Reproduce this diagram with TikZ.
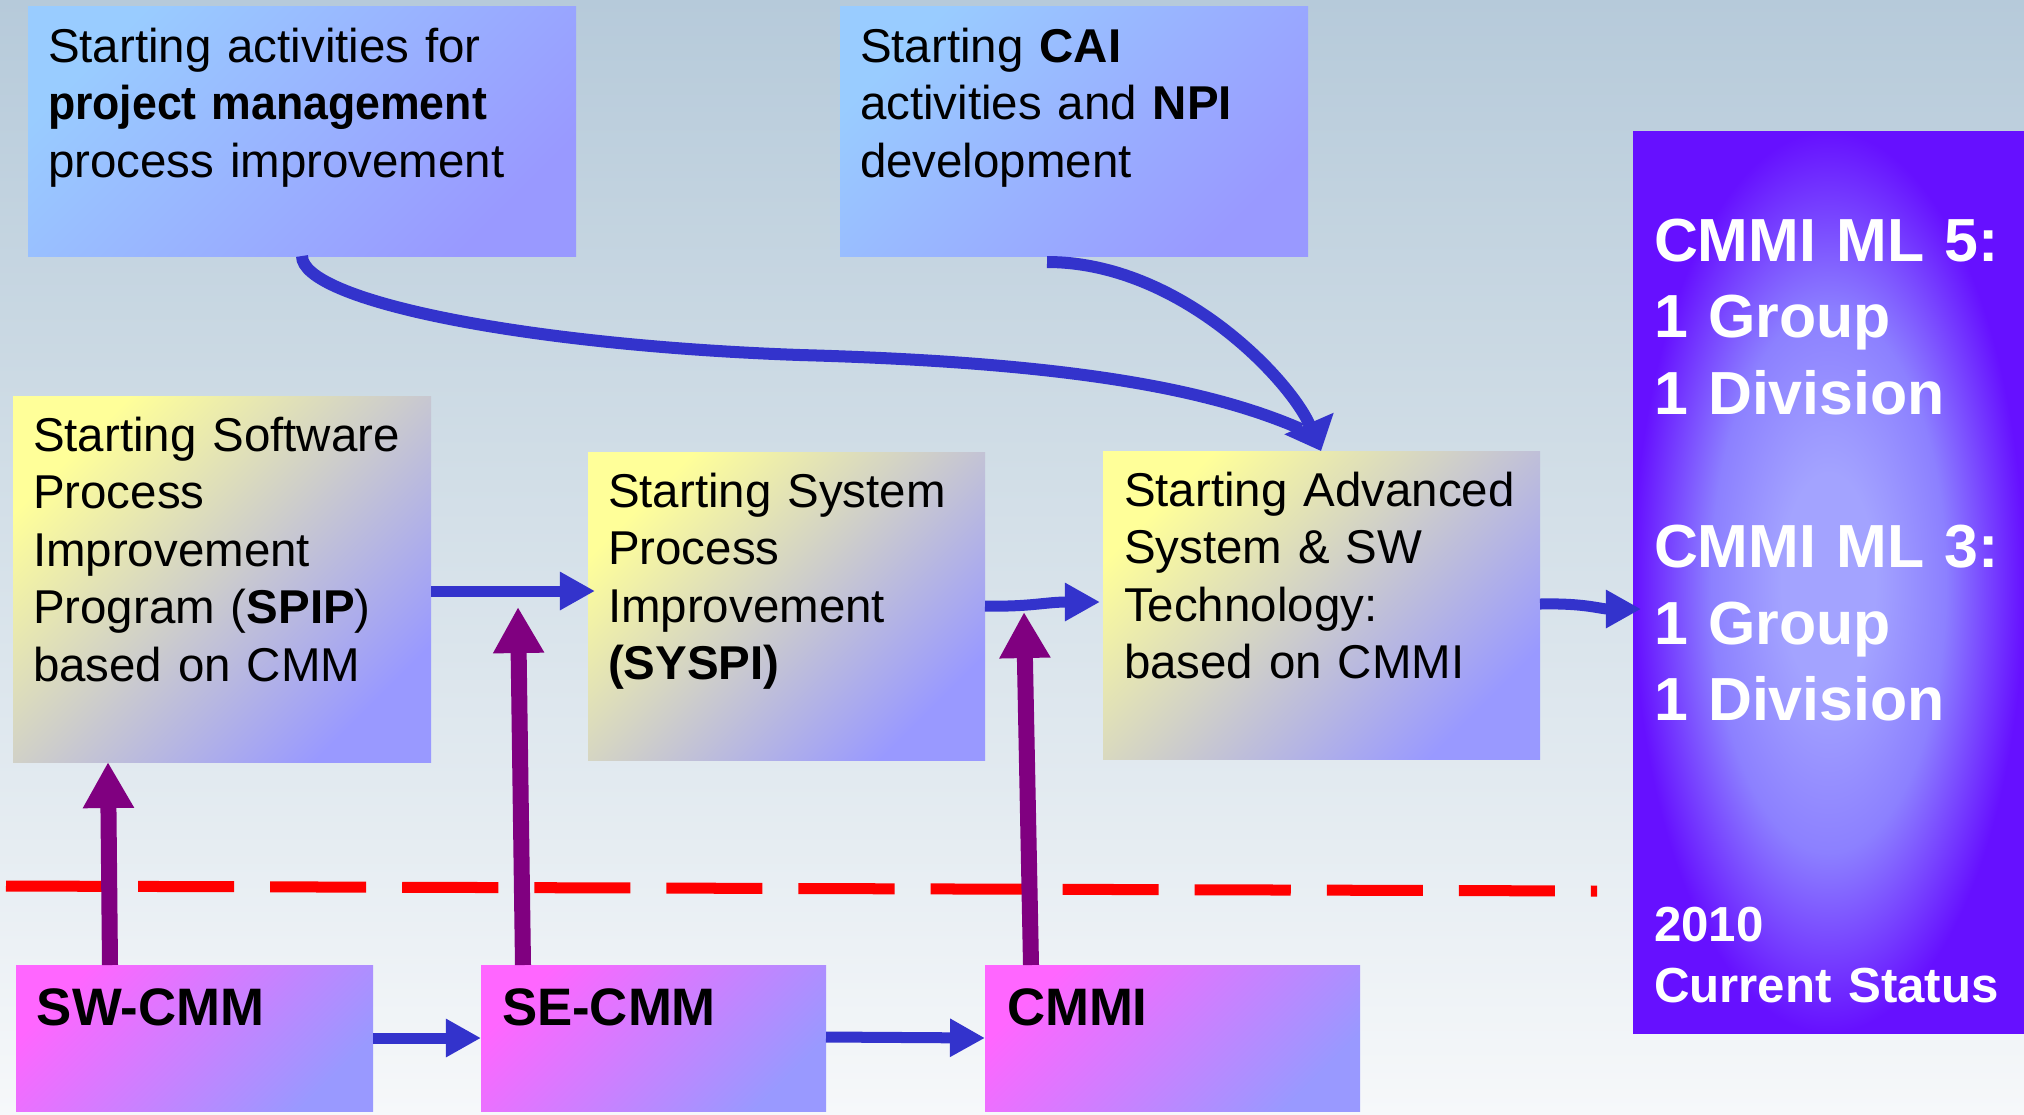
\documentclass[tikz,border=0pt]{standalone}
\usepackage{fontspec}
\setmainfont{Liberation Sans}
\usetikzlibrary{arrows.meta,calc,fit}

\definecolor{bgtop}{HTML}{B6CADA}
\definecolor{bgmidA}{HTML}{CCDAE4}
\definecolor{bgmidB}{HTML}{E2EAF0}
\definecolor{bgbot}{HTML}{F6F8FA}
\definecolor{abl1}{HTML}{99CCFF}
\definecolor{abl2}{HTML}{9999FF}
\definecolor{yel1}{HTML}{FFFF99}
\definecolor{yel2}{HTML}{CCCCCC}
\definecolor{yel3}{HTML}{9999FF}
\definecolor{pk1}{HTML}{FF66FF}
\definecolor{pk2}{HTML}{9999FF}
\definecolor{pc}{HTML}{A3A3FF}
\definecolor{pm2}{HTML}{8C80FF}
\definecolor{pe}{HTML}{6610FF}
\definecolor{arrowblue}{HTML}{3333CC}
\definecolor{feedpurple}{HTML}{800080}

\pgfdeclareverticalshading{bgshade}{100bp}{color(0bp)=(bgbot); color(25bp)=(bgbot); color(40bp)=(bgmidB); color(58bp)=(bgmidA); color(75bp)=(bgtop); color(100bp)=(bgtop)}
\pgfdeclarehorizontalshading{blueshade}{100bp}{color(0bp)=(abl1); color(25bp)=(abl1); color(75bp)=(abl2); color(100bp)=(abl2)}
\pgfdeclarehorizontalshading{yelshade}{100bp}{color(0bp)=(yel1); color(25bp)=(yel1); color(50bp)=(yel2); color(75bp)=(yel3); color(100bp)=(yel3)}
\pgfdeclarehorizontalshading{pinkshade}{100bp}{color(0bp)=(pk1); color(25bp)=(pk1); color(75bp)=(pk2); color(100bp)=(pk2)}
\pgfdeclareradialshading{purpshade}{\pgfpoint{0bp}{0bp}}{color(0bp)=(pc); color(6bp)=(pc); color(15bp)=(pm2); color(25bp)=(pe); color(50bp)=(pe)}

\tikzset{
  box/.style={inner sep=0pt, outer sep=0pt},
  bluebox/.style={box, shade, shading=blueshade, shading angle=-45},
  yellowbox/.style={box, shade, shading=yelshade, shading angle=-45},
  pinkbox/.style={box, shade, shading=pinkshade, shading angle=-45},
  purplebox/.style={box, shade, shading=purpshade},
  txt/.style={inner sep=0pt, outer sep=0pt, anchor=base west, align=left,
    font=\fontsize{13.5}{16.37}\selectfont},
  pinktxt/.style={inner sep=0pt, outer sep=0pt, anchor=base west,
    font=\bfseries\fontsize{15}{18}\selectfont},
  whitetxt/.style={inner sep=0pt, outer sep=0pt, anchor=base west, align=left,
    text=white, font=\bfseries\fontsize{17.3}{21.8}\selectfont},
  whitesmall/.style={inner sep=0pt, outer sep=0pt, anchor=base west, align=left,
    text=white, font=\bfseries\fontsize{14}{17.6}\selectfont},
  flowarrow/.style={draw=arrowblue, line width=0.11cm, -{Triangle[length=0.35cm,width=0.36cm]}},
  feedarrow/.style={draw=feedpurple, line width=0.16cm, -{Triangle[length=0.46cm,width=0.48cm]}},
  curvearrow/.style={draw=arrowblue, line width=0.12cm},
  dividerline/.style={draw=red, line width=0.11cm, dash pattern=on 0.96cm off 0.36cm},
}

\begin{document}
\begin{tikzpicture}[x=0.01cm,y=-0.01cm]
\useasboundingbox (0,0) rectangle (2024,1114);
\shade[shading=bgshade] (0,0) rectangle (2024,1114);

% boxes
\node[bluebox, fit={(28,6) (576,256)}] (pm) {};
\node[bluebox, fit={(840,6) (1308,256)}] (cai) {};
\node[purplebox, fit={(1633,131) (2024,1033)}] (status) {};
\node[yellowbox, fit={(13,396) (431,762)}] (spip) {};
\node[yellowbox, fit={(588,452) (985,760)}] (syspi) {};
\node[yellowbox, fit={(1103,451) (1540,759)}] (adv) {};
\node[pinkbox, fit={(16,965) (373,1111)}] (swcmm) {};
\node[pinkbox, fit={(481,965) (826,1111)}] (secmm) {};
\node[pinkbox, fit={(985,965) (1360,1111)}] (cmmi) {};

% texts
\node[txt, text width=5.3cm] (pmtext) at ($(pm.north west)+(20,56)$)
  {Starting activities for\\\scalebox{0.94}[1]{\textbf{project management}}\\process improvement};
\node[txt, text width=4.4cm] (caitext) at ($(cai.north west)+(20,56)$)
  {Starting \textbf{CAI}\\activities and \textbf{NPI}\\development};
\node[txt, text width=3.9cm] (spiptext) at ($(spip.north west)+(20,55)$)
  {Starting Software\\Process\\Improvement\\Program (\textbf{SPIP})\\based on CMM};
\node[txt, text width=3.7cm] (syspitext) at ($(syspi.north west)+(20,55)$)
  {Starting System\\Process\\Improvement\\\textbf{(SYSPI)}};
\node[txt, text width=4.1cm] (advtext) at ($(adv.north west)+(21,55)$)
  {Starting Advanced\\System \& SW\\Technology:\\based on CMMI};
\node[pinktxt] (swtext) at ($(swcmm.north west)+(21,60)$) {SW-CMM};
\node[pinktxt] (setext) at ($(secmm.north west)+(21,60)$) {SE-CMM};
\node[pinktxt] (cmmitext) at ($(cmmi.north west)+(22,60)$) {CMMI};
\node[whitetxt, text width=3.7cm] (statustext) at ($(status.north west)+(21,130)$)
  {CMMI ML 5:\\1 Group\\1 Division\\[21.8pt]CMMI ML 3:\\1 Group\\1 Division};
\node[whitesmall, text width=3.7cm] (yeartext) at ($(status.north west)+(21,810)$)
  {2010\\Current Status};

% divider
\coordinate (divL) at (6,886);
\coordinate (divR) at (1597,891);
\draw[dividerline] (divL) -- (divR);

% feed arrows (purple)
\coordinate (seTip) at (518,607);
\coordinate (cmTip) at (1024,612);
\draw[feedarrow] ($(swcmm.north west)+(94,0)$) -- ($(spip.south west)+(95,0)$);
\draw[feedarrow] ($(secmm.north west)+(42,0)$) -- (seTip);
\draw[feedarrow] ($(cmmi.north west)+(46,0)$) -- (cmTip);

% flow arrows (blue)
\draw[flowarrow] ($(spip.north east)+(0,195)$) -- ($(syspi.north west)+(7,139)$);
\draw[flowarrow] ($(syspi.north east)+(0,154)$) .. controls (1030,607) and (1045,602) .. ($(adv.north west)+(-3,151)$);
\draw[flowarrow] ($(adv.north east)+(0,153)$) .. controls (1585,603) and (1600,609) .. ($(status.north west)+(8,478)$);
\draw[flowarrow] ($(swcmm.north east)+(0,73)$) -- ($(secmm.north west)+(0,73)$);
\draw[flowarrow] ($(secmm.north east)+(0,72)$) -- ($(cmmi.north west)+(0,73)$);

% curved arrows
\draw[curvearrow] ($(pm.south west)+(274,0)$) .. controls (302,300) and (520,345) .. (800,355)
  .. controls (1050,362) and (1200,385) .. ($(adv.north west)+(198,-22)$);
\draw[curvearrow, -{Triangle[length=0.3cm,width=0.52cm]}] ($(cai.south west)+(207,6)$)
  .. controls (1180,262) and (1290,380) .. ($(adv.north west)+(218,0)$);
\end{tikzpicture}
\end{document}
